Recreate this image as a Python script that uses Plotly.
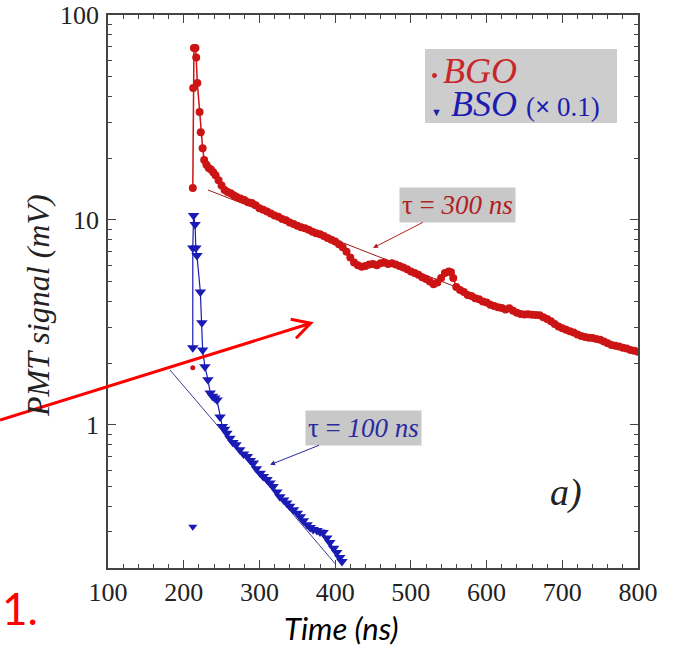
import numpy as np
import plotly.graph_objects as go

# ---------------- data ----------------
bgo_t = [212, 212.5, 213.5, 215.5, 216.5, 218, 221, 222.5, 225, 227,
         230, 233, 236, 239, 242, 246, 250, 254, 258, 262, 266, 270, 275, 280, 285,
         290, 295, 300, 305, 310, 315, 320, 325, 330, 335, 340, 345, 350, 355, 360,
         365, 370, 375, 380, 385, 390, 395, 400, 405, 410, 415, 420, 425, 430, 435,
         440, 445, 450, 455, 460, 465, 470, 475, 480, 485, 490, 495, 500, 505, 510,
         515, 520, 525, 530, 535, 540, 545, 550, 553, 556, 560, 565, 570, 575, 580,
         585, 590, 595, 600, 605, 610, 615, 620, 625, 630, 635, 640, 645, 650, 655,
         660, 665, 670, 675, 680, 685, 690, 695, 700, 705, 710, 715, 720, 725, 730,
         735, 740, 745, 750, 755, 760, 765, 770, 775, 780, 785, 790, 795, 800]
bgo_v = [14.3, 44, 69, 69, 62, 46.6, 33.6, 26.8, 22.4, 19.6,
         18.6, 17.9, 17.6, 17.1, 16.5, 15.6, 14.7, 14.0, 13.7, 13.5, 13.2, 12.95, 12.7, 12.5, 12.2,
         12.1, 11.8, 11.4, 11.2, 11.0, 10.75, 10.5, 10.35, 10.1, 9.95, 9.7, 9.55, 9.35, 9.2, 9.1,
         8.95, 8.75, 8.6, 8.5, 8.35, 8.15, 8.0, 7.85, 7.6, 7.35, 7.0, 6.55, 6.2, 6.0, 5.9,
         5.95, 6.05, 6.1, 6.0, 6.15, 6.2, 6.1, 6.15, 6.05, 5.95, 5.85, 5.75, 5.6, 5.5, 5.4,
         5.25, 5.15, 5.0, 4.85, 4.95, 5.2, 5.5, 5.6, 5.55, 5.2, 4.7, 4.55, 4.45, 4.3, 4.25,
         4.15, 4.1, 4.0, 3.95, 3.85, 3.8, 3.75, 3.72, 3.65, 3.7, 3.6, 3.52, 3.47, 3.45, 3.46,
         3.44, 3.43, 3.42, 3.35, 3.28, 3.2, 3.1, 3.02, 2.96, 2.91, 2.86, 2.82, 2.76, 2.71, 2.68,
         2.66, 2.65, 2.62, 2.6, 2.55, 2.5, 2.45, 2.43, 2.41, 2.38, 2.36, 2.32, 2.3, 2.27]

bgo_lone_t = [212]
bgo_lone_v = [1.9]

bso_t = [212, 212, 213, 215, 216, 217.5, 222, 224, 225, 228, 232, 235, 238, 241, 244,
         248, 251, 254, 257, 261, 265, 269, 274, 279, 284, 288, 292, 296, 301, 305,
         310, 314, 318, 323, 327, 332, 336, 340, 345, 350, 354, 358, 363, 367, 371,
         376, 380, 384, 389, 393, 398, 402, 406, 409]
bso_v = [2.38, 7.3, 10.5, 9.5, 7.3, 6.7, 4.45, 3.15, 2.32, 1.92, 1.66, 1.43, 1.38, 1.35, 1.32,
         1.09, 0.98, 0.95, 0.91, 0.86, 0.82, 0.80, 0.755, 0.72, 0.70, 0.67, 0.65, 0.61, 0.58, 0.56,
         0.54, 0.52, 0.50, 0.47, 0.445, 0.43, 0.415, 0.40, 0.385, 0.37, 0.356, 0.34, 0.325, 0.315,
         0.308, 0.305, 0.30, 0.298, 0.28, 0.266, 0.25, 0.238, 0.225, 0.215]

bso_lone_t = [212]
bso_lone_v = [0.318]

# exponential fits (straight lines on the log axis)
bgo_fit_t = [232, 560]
bgo_fit_v = [14.0, 4.7]
bso_fit_t = [182, 400]
bso_fit_v = [1.85, 0.21]

x_ticks = [100, 200, 300, 400, 500, 600, 700, 800]
y_ticks = [1, 10, 100]
y_ticktext = ["1", "10", "100"]
y_minor = [m * d for d in (0.1, 1, 10) for m in range(2, 10) if m * d >= 0.2]

RED = "#cc1414"
BLUE = "#1a1ab4"
SERIF = "Liberation Serif, Times New Roman, serif"
SANS = "Lato, Open Sans, sans-serif"

# ---------------- figure ----------------
fig = go.Figure()
fig.add_trace(go.Scatter(x=bgo_fit_t, y=bgo_fit_v, mode="lines",
                         line=dict(color="#9a1a1a", width=1), showlegend=False))
fig.add_trace(go.Scatter(x=bso_fit_t, y=bso_fit_v, mode="lines",
                         line=dict(color="#3c3c90", width=1), showlegend=False))
fig.add_trace(go.Scatter(x=bgo_t, y=bgo_v, mode="lines+markers",
                         line=dict(color=RED, width=1.5),
                         marker=dict(symbol="circle", size=8, color=RED),
                         showlegend=False))
fig.add_trace(go.Scatter(x=bgo_lone_t, y=bgo_lone_v, mode="markers",
                         marker=dict(symbol="circle", size=5, color=RED),
                         showlegend=False))
fig.add_trace(go.Scatter(x=bso_t, y=bso_v, mode="lines+markers",
                         line=dict(color=BLUE, width=1.2),
                         marker=dict(symbol="triangle-down", size=10, color=BLUE),
                         showlegend=False))
fig.add_trace(go.Scatter(x=bso_lone_t, y=bso_lone_v, mode="markers",
                         marker=dict(symbol="triangle-down", size=8, color=BLUE),
                         showlegend=False))

W, H = 673, 656
L, R, T, B = 108, 35, 15, 88
PW, PH = W - L - R, H - T - B


def px(xp):
    return (xp - L) / PW


def py(yp):
    return (H - B - yp) / PH


axis_common = dict(showline=True, linecolor="#444", linewidth=1.5, mirror="allticks",
                   ticks="inside", ticklen=8, tickcolor="#444", tickwidth=1.2,
                   showgrid=False, zeroline=False, automargin=False,
                   ticklabeloverflow="allow",
                   tickfont=dict(family=SERIF, size=26, color="#222"))

fig.update_layout(
    width=W, height=H, autosize=False,
    margin=dict(l=L, r=R, t=T, b=B, autoexpand=False),
    plot_bgcolor="white", paper_bgcolor="white",
    xaxis=dict(range=[100, 800], tickvals=x_ticks,
               minor=dict(dtick=20, tick0=100, ticks="inside", ticklen=4,
                          tickcolor="#444", tickwidth=1),
               ticklabelstandoff=0, **axis_common),
    yaxis=dict(type="log", range=[np.log10(0.2), 2], tickvals=y_ticks, ticktext=y_ticktext,
               minor=dict(tickvals=y_minor, ticks="inside", ticklen=4,
                          tickcolor="#444", tickwidth=1),
               ticklabelstandoff=2, **axis_common),
)

# legend box
fig.add_shape(type="rect", xref="paper", yref="paper",
              x0=px(425), x1=px(617), y0=py(123), y1=py(49),
              fillcolor="#cdcdcd", line=dict(width=0), layer="below")
fig.add_annotation(xref="paper", yref="paper", x=px(429), y=py(71), xanchor="left",
                   yanchor="middle", showarrow=False,
                   text="<span style='font-size:20px'>• </span><i>BGO</i>",
                   font=dict(family=SERIF, size=36, color="#c8262a"))
fig.add_annotation(xref="paper", yref="paper", x=px(429), y=py(104), xanchor="left",
                   yanchor="middle", showarrow=False,
                   text="<span style='font-size:11px'>▼</span> <i>BSO</i> "
                        "<span style='font-size:27px'>(<b>×</b> 0.1)</span>",
                   font=dict(family=SERIF, size=36, color="#1c1cb0"))

# tau annotations
fig.add_annotation(x=450, y=np.log10(7.3), xref="x", yref="y",
                   text="τ = <i>300 ns</i>", showarrow=True,
                   ax=84, ay=-43, axref="pixel", ayref="pixel",
                   arrowhead=2, arrowsize=1, arrowwidth=1, arrowcolor="#b02020",
                   bgcolor="#c8c8c8", borderpad=2,
                   font=dict(family=SERIF, size=27, color="#b02020"))
fig.add_annotation(x=314, y=np.log10(0.638), xref="x", yref="y",
                   text="τ = <i>100 ns</i>", showarrow=True,
                   ax=93, ay=-37, axref="pixel", ayref="pixel",
                   arrowhead=2, arrowsize=1, arrowwidth=1, arrowcolor="#2a2aa0",
                   bgcolor="#c8c8c8", borderpad=2,
                   font=dict(family=SERIF, size=27, color="#2a2aa0"))

# panel label
fig.add_annotation(xref="paper", yref="paper", x=px(566), y=py(492), showarrow=False,
                   xanchor="center", yanchor="middle",
                   text="<i>a)</i>", font=dict(family=SERIF, size=38, color="#222"))

# axis titles
fig.add_annotation(xref="paper", yref="paper", x=px(38), y=py(306), showarrow=False,
                   xanchor="center", yanchor="middle",
                   textangle=-90, text="<i>PMT signal (mV)</i>",
                   font=dict(family=SERIF, size=32, color="#222"))
fig.add_annotation(xref="paper", yref="paper", x=px(341), y=py(628), showarrow=False,
                   xanchor="center", yanchor="middle",
                   text="<i>Time (ns)</i>",
                   font=dict(family=SANS, size=31, color="black"))
fig.add_annotation(xref="paper", yref="paper", x=px(0), y=py(608), showarrow=False,
                   xanchor="left", yanchor="middle", text="1.",
                   font=dict(family=SANS, size=44, color="#ff0000"))

# big red overlay arrow
path = (f"M {px(0)},{py(420)} L {px(310.7)},{py(323.3)} "
        f"M {px(290.7)},{py(319.3)} L {px(310.7)},{py(323.3)} L {px(296)},{py(338.3)}")
fig.add_shape(type="path", xref="paper", yref="paper", path=path,
              line=dict(color="#ff0000", width=3), layer="above")

fig.write_html("out.html", config={"displayModeBar": False},
               post_script="document.body.style.margin='0px';")
